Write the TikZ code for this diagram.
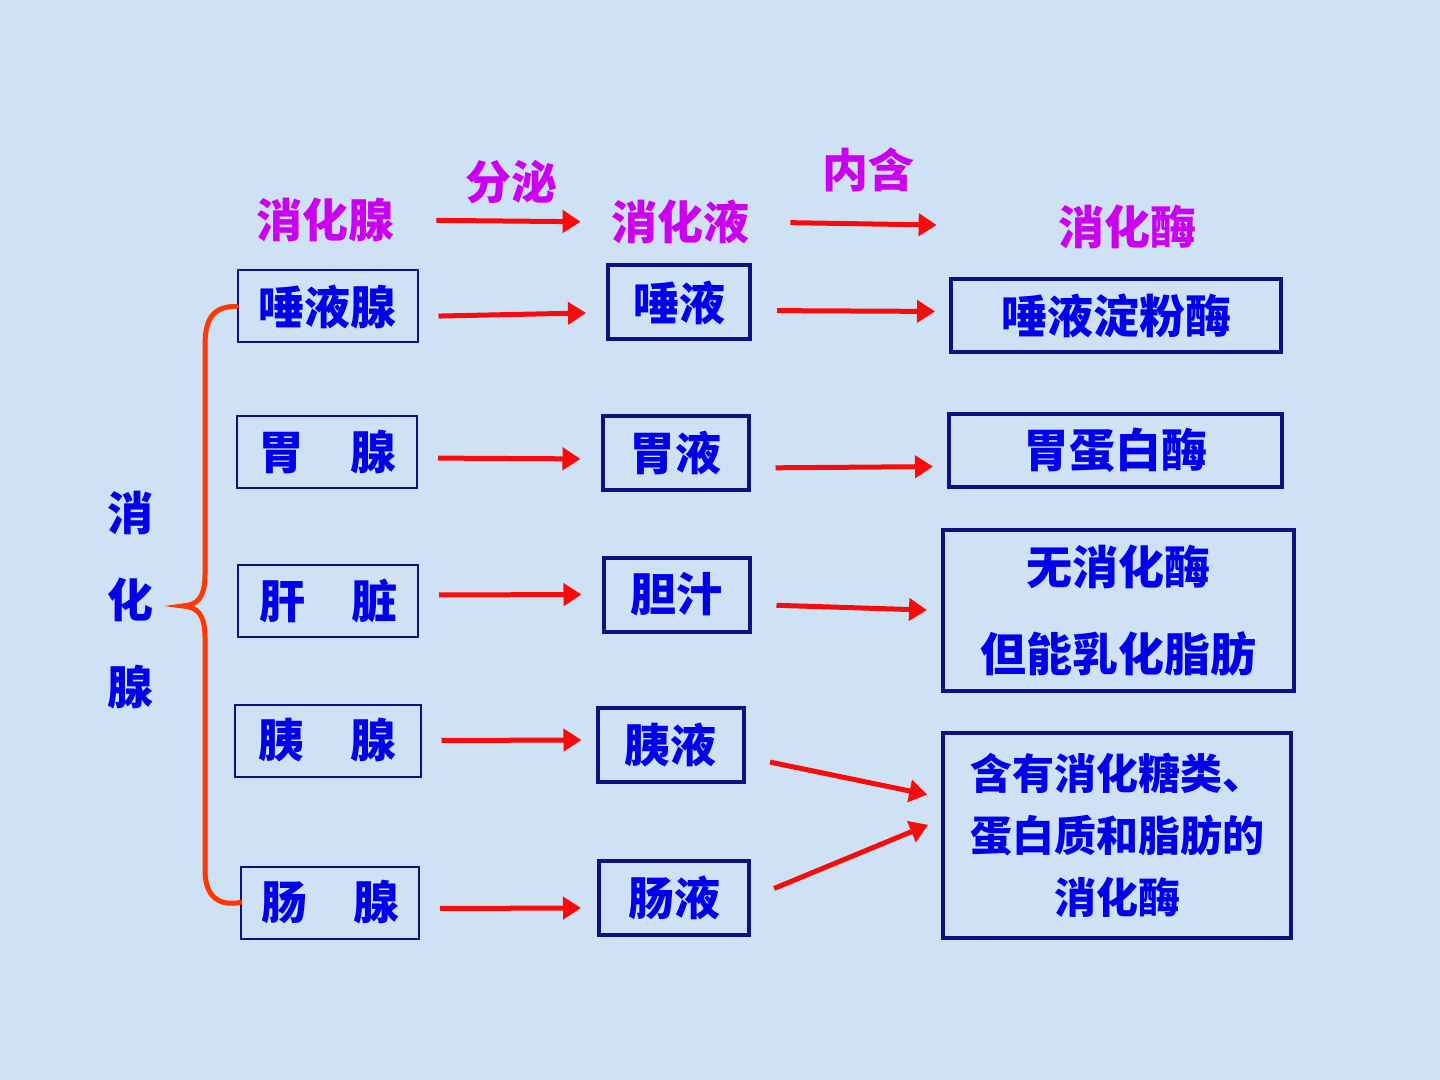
\documentclass[tikz,border=0pt]{standalone}
\usepackage{fontspec}
\newfontfamily\cjk{Noto Sans CJK SC}
\usetikzlibrary{positioning,arrows.meta}
\definecolor{bgblue}{RGB}{206,225,245}
\definecolor{txtblue}{RGB}{0,0,235}
\definecolor{boxblue}{RGB}{16,16,128}
\definecolor{hdrpink}{RGB}{204,0,240}
\definecolor{arrred}{RGB}{250,10,10}
\definecolor{bracered}{RGB}{255,55,0}

\begin{document}
\begin{tikzpicture}[x=0.5pt,y=-0.5pt,
  every node/.style={font=\cjk\bfseries\fontsize{23}{28}\selectfont,text=txtblue,inner sep=0pt},
  glandbox/.style={draw=boxblue,line width=1pt,minimum width=90pt,minimum height=36pt},
  juicebox/.style={draw=boxblue,line width=2pt,minimum width=73pt,minimum height=37pt},
  enzbox/.style={draw=boxblue,line width=2pt,align=center},
  header/.style={text=hdrpink},
  redarrow/.style={draw=arrred,line width=2.5pt,-{Triangle[length=9pt,width=11pt]}},
  tojuice/.style={redarrow,shorten <=10pt,shorten >=10pt},
  toenz/.style={redarrow,shorten <=12.5pt,shorten >=7pt}]
\fill[bgblue] (0,0) rectangle (1440,1080);
\useasboundingbox (0,0) rectangle (1440,1080);
% headers
\node[header] (hgland) at (325,220) {消化腺};
\node[header] (hjuice) at (680,222) {消化液};
\node[header] (henz) at (1127,227) {消化酶};
\node[header] (secrete) at (511,182) {分泌};
\node[header] (contain) at (868,170) {内含};
% glands
\node[glandbox] (g1) at (327.5,306.5) {唾液腺};
\node[glandbox] (g2) at (327,452) {胃　腺};
\node[glandbox] (g3) at (328,601) {肝　脏};
\node[glandbox,minimum width=93pt] (g4) at (327.5,740.5) {胰　腺};
\node[glandbox,minimum width=89pt] (g5) at (330,902.5) {肠　腺};
\node[align=center,font=\cjk\bfseries\fontsize{23}{43.5}\selectfont] (side) at (130,600) {消\\化\\腺};
% juices
\node[juicebox,minimum width=71pt] (j1) at (679,302.5) {唾液};
\node[juicebox] (j2) at (675.5,453) {胃液};
\node[juicebox] (j3) at (676.5,594.5) {胆汁};
\node[juicebox] (j4) at (670.5,745) {胰液};
\node[juicebox,minimum width=75pt] (j5) at (674,898) {肠液};
% enzymes
\node[enzbox,minimum width=165pt,minimum height=36.5pt] (e1) at (1116,315.5) {唾液淀粉酶};
\node[enzbox,minimum width=166.5pt,minimum height=36.5pt] (e2) at (1115.5,450.5) {胃蛋白酶};
\node[enzbox,minimum width=175.5pt,minimum height=80.5pt,font=\cjk\bfseries\fontsize{23}{43.5}\selectfont] (e3) at (1118.5,610.5) {无消化酶\\但能乳化脂肪};
\node[enzbox,minimum width=174pt,minimum height=102.5pt,font=\cjk\bfseries\fontsize{21}{31}\selectfont] (e4) at (1117,835.5) {含有消化糖类、\\蛋白质和脂肪的\\消化酶};
% arrows
\draw[redarrow,shorten <=21pt,shorten >=15pt] (hgland.east) -- (hjuice.west);
\draw[redarrow,shorten <=20.5pt,shorten >=60.5pt] (hjuice.east) -- (henz.west);
\draw[tojuice] ([yshift=-5pt]g1.east) -- ([yshift=-5pt]j1.west);
\draw[tojuice] ([yshift=-3pt]g2.east) -- ([yshift=-3pt]j2.west);
\draw[tojuice] ([yshift=3pt]g3.east) -- (j3.west);
\draw[tojuice,shorten >=7pt] (g4.east) -- ([yshift=2.5pt]j4.west);
\draw[tojuice,shorten >=8pt] ([yshift=-3pt]g5.east) -- ([yshift=-5pt]j5.west);
\draw[toenz] ([yshift=-4pt]j1.east) -- ([yshift=2pt]e1.west);
\draw[toenz] ([yshift=-7.5pt]j2.east) -- ([yshift=-8pt]e2.west);
\draw[toenz] ([yshift=-5pt]j3.east) -- (e3.west);
\draw[toenz] ([yshift=-6pt]j4.east) -- ([yshift=19pt]e4.west);
\draw[toenz] (j5.east) -- ([yshift=8pt]e4.west);
% brace
\draw[bracered,line width=2.5pt,line cap=round] (g1.west) .. controls (214,306) and (205,318) .. (205,345) -- (205,575) .. controls (205,598) and (197,605) .. (183,606) .. controls (197,607) and (205,614) .. (205,637) -- (205,870) .. controls (205,898) and (220,906) .. (g5.west);
\end{tikzpicture}
\end{document}
